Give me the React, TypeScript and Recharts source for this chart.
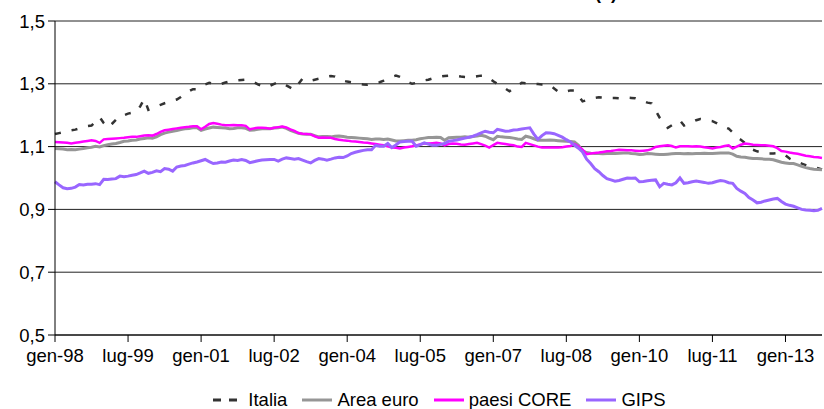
import { CartesianGrid, Line, LineChart, XAxis, YAxis } from 'recharts'

const monthNames = ['gen', 'feb', 'mar', 'apr', 'mag', 'giu', 'lug', 'ago', 'set', 'ott', 'nov', 'dic']
const years = [1998, 1999, 2000, 2001, 2002, 2003, 2004, 2005, 2006, 2007, 2008, 2009, 2010, 2011, 2012, 2013]

const italia = [
  1.140, 1.143, 1.146, 1.150, 1.152, 1.154, 1.158, 1.162, 1.165, 1.167, 1.180, 1.194,
  1.175, 1.160, 1.172, 1.185, 1.198, 1.200, 1.205, 1.208, 1.210, 1.228, 1.252, 1.217,
  1.222, 1.228, 1.233, 1.238, 1.242, 1.246, 1.250, 1.258, 1.268, 1.276, 1.283, 1.283,
  1.292, 1.298, 1.303, 1.300, 1.297, 1.300, 1.304, 1.307, 1.309, 1.311, 1.312, 1.313,
  1.311, 1.305, 1.298, 1.293, 1.289, 1.294, 1.300, 1.305, 1.304, 1.295, 1.288, 1.281,
  1.300, 1.317, 1.314, 1.310, 1.313, 1.316, 1.320, 1.323, 1.325, 1.323, 1.316, 1.310,
  1.307, 1.305, 1.302, 1.300, 1.298, 1.297, 1.299, 1.302, 1.305, 1.310, 1.316, 1.322,
  1.326, 1.322, 1.314, 1.306, 1.300, 1.303, 1.307, 1.311, 1.313, 1.317, 1.321, 1.323,
  1.325, 1.326, 1.326, 1.325, 1.323, 1.322, 1.321, 1.322, 1.324, 1.326, 1.326, 1.318,
  1.308, 1.300, 1.292, 1.285, 1.276, 1.285, 1.295, 1.303, 1.302, 1.300, 1.300, 1.299,
  1.298, 1.298, 1.296, 1.285, 1.275, 1.273, 1.276, 1.279, 1.279, 1.262, 1.244, 1.248,
  1.252, 1.255, 1.257, 1.256, 1.255, 1.255, 1.255, 1.254, 1.255, 1.256, 1.255, 1.254,
  1.250, 1.245, 1.240, 1.238, 1.215, 1.192, 1.175, 1.160, 1.168, 1.176, 1.183, 1.167,
  1.172, 1.178, 1.184, 1.188, 1.186, 1.183, 1.181, 1.175, 1.168, 1.162, 1.157, 1.145,
  1.130, 1.122, 1.112, 1.100, 1.090, 1.085, 1.082, 1.079, 1.078, 1.078, 1.079, 1.080,
  1.072, 1.062, 1.055, 1.051, 1.046, 1.041, 1.037, 1.035, 1.031, 1.027,
]

const areaEuro = [
  1.094, 1.093, 1.092, 1.090, 1.091, 1.090, 1.092, 1.094, 1.096, 1.098, 1.101, 1.099,
  1.103, 1.106, 1.108, 1.110, 1.113, 1.117, 1.118, 1.120, 1.121, 1.124, 1.126, 1.128,
  1.127, 1.131, 1.138, 1.143, 1.146, 1.149, 1.151, 1.154, 1.157, 1.158, 1.160, 1.160,
  1.152, 1.156, 1.159, 1.162, 1.161, 1.160, 1.159, 1.157, 1.158, 1.160, 1.160, 1.158,
  1.152, 1.153, 1.155, 1.157, 1.158, 1.157, 1.159, 1.160, 1.162, 1.158, 1.152, 1.147,
  1.142, 1.140, 1.139, 1.139, 1.135, 1.131, 1.132, 1.132, 1.131, 1.133, 1.134, 1.132,
  1.130, 1.129, 1.128, 1.127, 1.126, 1.125, 1.123, 1.124, 1.124, 1.123, 1.124, 1.121,
  1.118, 1.118, 1.119, 1.120, 1.120, 1.122, 1.125, 1.127, 1.129, 1.129, 1.130, 1.129,
  1.120, 1.128, 1.129, 1.130, 1.130, 1.131, 1.130, 1.132, 1.134, 1.136, 1.133, 1.127,
  1.122, 1.133, 1.131, 1.130, 1.129, 1.127, 1.124, 1.123, 1.133, 1.130, 1.125, 1.120,
  1.120, 1.120, 1.121, 1.120, 1.119, 1.118, 1.117, 1.116, 1.115, 1.104, 1.086, 1.081,
  1.079, 1.078, 1.078, 1.077, 1.078, 1.078, 1.078, 1.079, 1.080, 1.080, 1.078, 1.077,
  1.075, 1.076, 1.078, 1.077, 1.076, 1.075, 1.075, 1.076, 1.077, 1.078, 1.078, 1.077,
  1.078, 1.077, 1.078, 1.078, 1.079, 1.078, 1.078, 1.079, 1.080, 1.080, 1.080, 1.076,
  1.069, 1.067, 1.066, 1.064, 1.062, 1.062, 1.061, 1.060, 1.060, 1.058, 1.054, 1.050,
  1.048, 1.046, 1.046, 1.042, 1.037, 1.033, 1.030, 1.028, 1.027, 1.026,
]

const paesiCore = [
  1.115, 1.114, 1.113, 1.112, 1.110, 1.112, 1.114, 1.116, 1.118, 1.120, 1.118, 1.112,
  1.123, 1.124, 1.125, 1.126, 1.127, 1.128, 1.130, 1.131, 1.131, 1.133, 1.135, 1.136,
  1.135, 1.140, 1.147, 1.152, 1.154, 1.156, 1.158, 1.160, 1.162, 1.163, 1.165, 1.165,
  1.155, 1.163, 1.172, 1.175, 1.173, 1.170, 1.168, 1.168, 1.169, 1.168, 1.168, 1.166,
  1.155, 1.158, 1.160, 1.160, 1.159, 1.157, 1.160, 1.162, 1.164, 1.161, 1.155, 1.150,
  1.143, 1.141, 1.140, 1.139, 1.133, 1.128, 1.129, 1.128, 1.128, 1.124, 1.122, 1.120,
  1.119, 1.117, 1.116, 1.115, 1.113, 1.112, 1.110, 1.108, 1.106, 1.104, 1.101, 1.097,
  1.096, 1.094, 1.097, 1.099, 1.101, 1.104, 1.107, 1.110, 1.110, 1.111, 1.112, 1.110,
  1.104, 1.108, 1.110, 1.109, 1.107, 1.106, 1.108, 1.110, 1.112, 1.108, 1.103, 1.097,
  1.105, 1.112, 1.110, 1.108, 1.106, 1.104, 1.100, 1.099, 1.112, 1.108, 1.104, 1.100,
  1.097, 1.097, 1.097, 1.097, 1.097, 1.098, 1.100, 1.102, 1.108, 1.100, 1.090, 1.076,
  1.078, 1.080, 1.081, 1.083, 1.085, 1.086, 1.088, 1.090, 1.089, 1.088, 1.088, 1.087,
  1.086, 1.087, 1.088, 1.092, 1.099, 1.101, 1.103, 1.104, 1.102, 1.097, 1.101, 1.101,
  1.101, 1.100, 1.101, 1.100, 1.098, 1.096, 1.094, 1.097, 1.099, 1.102, 1.104, 1.094,
  1.100, 1.106, 1.110, 1.108, 1.106, 1.105, 1.104, 1.104, 1.103, 1.101, 1.095, 1.086,
  1.084, 1.081, 1.079, 1.077, 1.074, 1.071, 1.069, 1.067, 1.066, 1.064,
]

const gips = [
  0.988, 0.978, 0.969, 0.966, 0.967, 0.971, 0.979, 0.978, 0.980, 0.980, 0.982, 0.979,
  0.996, 0.995, 0.997, 0.998, 1.006, 1.004, 1.006, 1.009, 1.011, 1.016, 1.022, 1.015,
  1.018, 1.023, 1.020, 1.030, 1.028, 1.022, 1.035, 1.038, 1.040, 1.044, 1.048, 1.051,
  1.055, 1.059, 1.052, 1.046, 1.048, 1.051, 1.050, 1.054, 1.057, 1.056, 1.059, 1.056,
  1.049, 1.052, 1.055, 1.057, 1.058, 1.059, 1.059, 1.054, 1.060, 1.064, 1.062, 1.060,
  1.062, 1.057, 1.052, 1.048, 1.056, 1.062, 1.060, 1.057, 1.060, 1.064, 1.066, 1.065,
  1.070, 1.078, 1.082, 1.085, 1.088, 1.090, 1.090, 1.104, 1.101, 1.101, 1.110, 1.097,
  1.105, 1.115, 1.116, 1.117, 1.117, 1.101, 1.106, 1.112, 1.108, 1.104, 1.104, 1.107,
  1.110, 1.117, 1.119, 1.121, 1.124, 1.127, 1.130, 1.133, 1.138, 1.144, 1.149, 1.146,
  1.144, 1.155, 1.152, 1.149, 1.150, 1.153, 1.154, 1.156, 1.158, 1.160, 1.140, 1.123,
  1.135, 1.144, 1.143, 1.141, 1.136, 1.130, 1.122, 1.115, 1.104, 1.095, 1.083, 1.060,
  1.046, 1.030, 1.020, 1.008, 0.998, 0.994, 0.990, 0.992, 0.996, 1.000, 0.999, 1.000,
  0.988, 0.989, 0.991, 0.993, 0.994, 0.972, 0.983, 0.980, 0.978, 0.985, 1.000, 0.983,
  0.985, 0.988, 0.990, 0.988, 0.986, 0.983, 0.985, 0.989, 0.992, 0.990, 0.985, 0.983,
  0.967, 0.958, 0.951, 0.938, 0.930, 0.921, 0.923, 0.927, 0.930, 0.933, 0.935, 0.925,
  0.917, 0.913, 0.910, 0.905, 0.900, 0.898, 0.897, 0.896, 0.897, 0.903,
]

const yTicks = [0.5, 0.7, 0.9, 1.1, 1.3, 1.5]

const labels: string[] = []
years.forEach((y) => monthNames.forEach((m) => labels.push(`${m}-${String(y).slice(2)}`)))

const data = italia.map((v, i) => ({
  label: labels[i],
  italia: v,
  areaEuro: areaEuro[i],
  paesiCore: paesiCore[i],
  gips: gips[i],
}))

const font = '"Liberation Sans", Arial, sans-serif'

const legendItems = [
  { name: 'Italia', color: '#333333', dash: '8 8' },
  { name: 'Area euro', color: '#969696', dash: undefined },
  { name: 'paesi CORE', color: '#ff00ff', dash: undefined },
  { name: 'GIPS', color: '#9966ff', dash: undefined },
]

export default function App() {
  return (
    <div
      style={{
        position: 'fixed',
        left: 0,
        top: 0,
        width: 824,
        height: 409,
        overflow: 'hidden',
        background: '#fff',
        fontFamily: font,
      }}
    >
      <svg width={824} height={10} style={{ position: 'absolute', left: 0, top: 0 }}>
        <text x={606} y={-1} textAnchor="middle" fontSize={18} fontWeight="bold" fontFamily={font}>
          (a)
        </text>
      </svg>
      <LineChart width={824} height={409} data={data} margin={{ top: 21, right: 2, bottom: 34, left: 0 }}>
        <CartesianGrid horizontal vertical={false} stroke="#222" strokeWidth={1} />
        <XAxis
          dataKey="label"
          interval={17}
          tickSize={7}
          tickMargin={7}
          height={40}
          axisLine={{ stroke: '#000' }}
          tickLine={{ stroke: '#000' }}
          tick={{ fontSize: 18.5, fill: '#000', fontFamily: font }}
        />
        <YAxis
          domain={[0.5, 1.5]}
          ticks={yTicks}
          width={55}
          tickSize={7}
          tickMargin={3}
          axisLine={{ stroke: '#000' }}
          tickLine={{ stroke: '#000' }}
          tick={{ fontSize: 18.5, fill: '#000', fontFamily: font }}
          tickFormatter={(v: number) => v.toFixed(1).replace('.', ',')}
        />
        <Line dataKey="italia" stroke="#333333" strokeWidth={2.5} strokeDasharray="6 11" dot={false} isAnimationActive={false} />
        <Line dataKey="areaEuro" stroke="#969696" strokeWidth={3} dot={false} isAnimationActive={false} />
        <Line dataKey="paesiCore" stroke="#ff00ff" strokeWidth={2.5} dot={false} isAnimationActive={false} />
        <Line dataKey="gips" stroke="#9966ff" strokeWidth={3} dot={false} isAnimationActive={false} />
      </LineChart>
      <div
        style={{
          position: 'absolute',
          left: 0,
          top: 390,
          width: 894,
          display: 'flex',
          justifyContent: 'center',
          fontSize: 18.5,
          lineHeight: '20px',
          color: '#000',
        }}
      >
        {legendItems.map((it) => (
          <div key={it.name} style={{ display: 'flex', alignItems: 'center', marginRight: 15 }}>
            <svg width={30} height={20} style={{ marginRight: 5 }}>
              <line x1={0} y1={10} x2={30} y2={10} stroke={it.color} strokeWidth={3} strokeDasharray={it.dash} />
            </svg>
            <span>{it.name}</span>
          </div>
        ))}
      </div>
    </div>
  )
}
